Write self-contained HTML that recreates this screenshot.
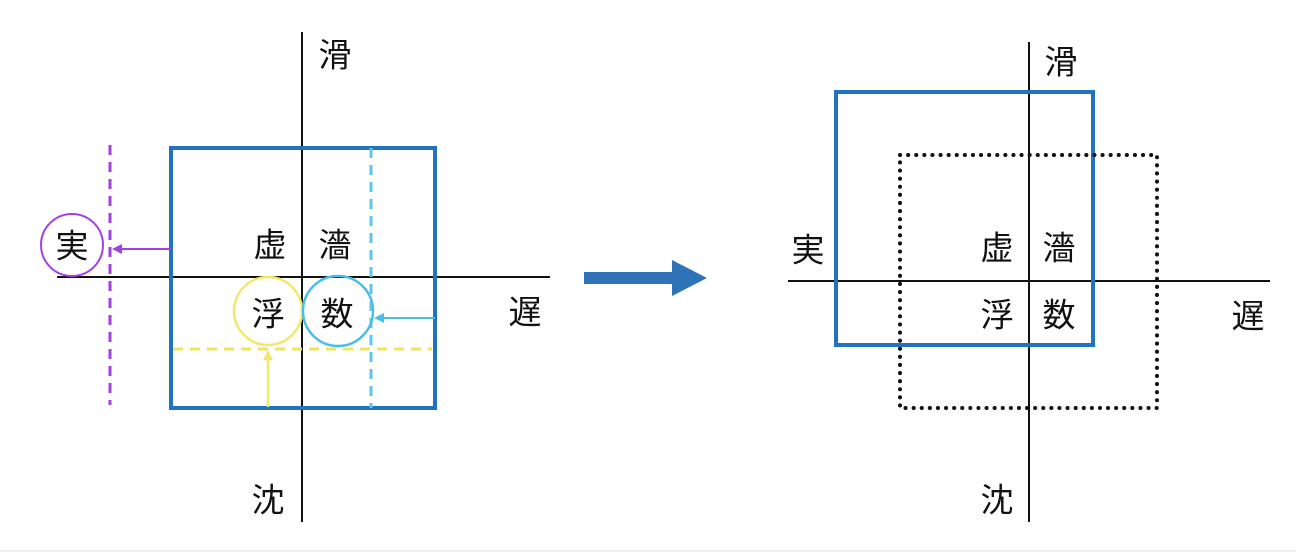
<!DOCTYPE html>
<html><head><meta charset="utf-8"><style>
html,body{margin:0;padding:0;background:#fff;}
svg{display:block;}
text{font-family:"Liberation Sans","Noto Sans CJK JP",sans-serif;font-size:33px;fill:#111;text-anchor:middle;dominant-baseline:central;}
</style></head><body>
<svg width="1296" height="554" viewBox="0 0 1296 554" xmlns="http://www.w3.org/2000/svg">
<defs>
<marker id="mp" markerWidth="10" markerHeight="10" refX="8" refY="5" orient="auto" markerUnits="userSpaceOnUse"><path d="M0,0 L10,5 L0,10 z" fill="#a43fe0"/></marker>
<marker id="mc" markerWidth="10" markerHeight="10" refX="8" refY="5" orient="auto" markerUnits="userSpaceOnUse"><path d="M0,0 L10,5 L0,10 z" fill="#4bbde8"/></marker>
<marker id="my" markerWidth="10" markerHeight="10" refX="8" refY="5" orient="auto" markerUnits="userSpaceOnUse"><path d="M0,0 L10,5 L0,10 z" fill="#f2e86a"/></marker>
</defs>
<!-- Left diagram -->
<line x1="302" y1="32" x2="302" y2="522" stroke="#111" stroke-width="2"/>
<line x1="57" y1="277" x2="550" y2="277" stroke="#111" stroke-width="2"/>
<rect x="171" y="148" width="264" height="260" fill="none" stroke="#1f73c0" stroke-width="4"/>
<line x1="110" y1="145" x2="110" y2="405" stroke="#a43fe0" stroke-width="3" stroke-dasharray="10,7"/>
<line x1="371" y1="148" x2="371" y2="408" stroke="#5cc6ee" stroke-width="3" stroke-dasharray="10,7"/>
<line x1="173" y1="349" x2="432" y2="349" stroke="#f0e45a" stroke-width="3" stroke-dasharray="10,7"/>
<circle cx="72" cy="245" r="31" fill="none" stroke="#a43fe0" stroke-width="2"/>
<circle cx="268" cy="311" r="34" fill="none" stroke="#f2e86a" stroke-width="2.5"/>
<circle cx="338" cy="311" r="35" fill="none" stroke="#4bbde8" stroke-width="2.5"/>
<line x1="171" y1="249" x2="114" y2="249" stroke="#a43fe0" stroke-width="2" marker-end="url(#mp)"/>
<line x1="435" y1="318" x2="376" y2="318" stroke="#4bbde8" stroke-width="2" marker-end="url(#mc)"/>
<line x1="268" y1="407" x2="268" y2="352" stroke="#f2e86a" stroke-width="2.5" marker-end="url(#my)"/>
<text x="72" y="246">実</text>
<text x="335" y="55">滑</text>
<text x="270" y="245">虚</text>
<text x="335" y="245">濇</text>
<text x="268" y="314">浮</text>
<text x="337" y="314">数</text>
<text x="525" y="312">遅</text>
<text x="268" y="500">沈</text>
<!-- Big arrow -->
<polygon points="584,272 672,272 672,260 707,278 672,296 672,284 584,284" fill="#2e73b8"/>
<!-- Right diagram -->
<line x1="1029" y1="42" x2="1029" y2="522" stroke="#111" stroke-width="2"/>
<line x1="788" y1="281" x2="1270" y2="281" stroke="#111" stroke-width="2"/>
<rect x="836" y="92" width="257" height="253" fill="none" stroke="#1f73c0" stroke-width="4"/>
<rect x="900" y="155" width="257" height="253" fill="none" stroke="#111" stroke-width="4" stroke-dasharray="0.1,8" stroke-linecap="round"/>
<text x="808" y="250">実</text>
<text x="997" y="248">虚</text>
<text x="1059" y="248">濇</text>
<text x="997" y="315">浮</text>
<text x="1059" y="315">数</text>
<text x="1248" y="316">遅</text>
<text x="1061" y="62">滑</text>
<text x="997" y="500">沈</text>
<line x1="0" y1="551" x2="1296" y2="551" stroke="#eee" stroke-width="2"/>
</svg>
</body></html>
